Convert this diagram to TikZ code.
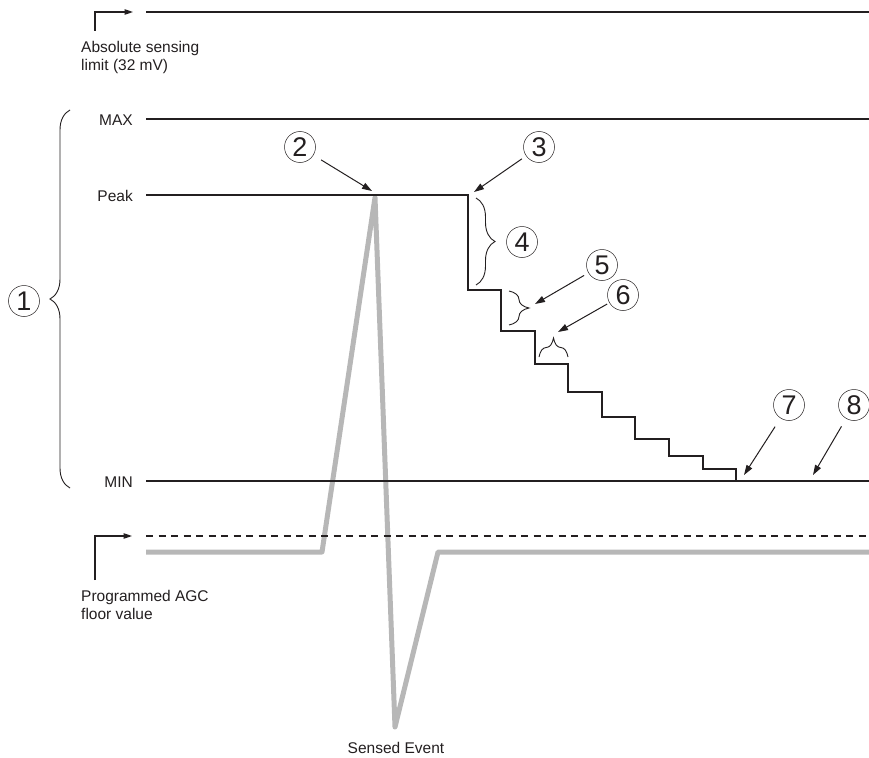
\documentclass[tikz,border=0pt]{standalone}
\usepackage{fontspec}
\setmainfont{Liberation Sans}
\usetikzlibrary{arrows.meta,decorations.pathreplacing}
\definecolor{ink}{RGB}{35,31,32}
\definecolor{sig}{RGB}{183,183,183}
\begin{document}
\begin{tikzpicture}[x=1pt,y=-1pt,
  lbl/.style={font=\fontsize{15.5}{18}\selectfont, inner sep=0pt, text=ink},
  num/.style={circle, draw=ink, line width=0.5pt, minimum size=31pt, inner sep=0pt, font=\fontsize{27}{27}\selectfont, text=ink},
  level/.style={draw=ink, line width=2.5pt},
  callout/.style={draw=ink, line width=1pt, -{Triangle[length=10pt,width=6.5pt]}},
  corner/.style={draw=ink, line width=1.1pt, -{Triangle[length=8.5pt,width=5.5pt]}},
  bracestyle/.style={draw=ink, line width=0.9pt, decorate, decoration={brace, amplitude=#1}},
  signal/.style={draw=sig, line width=5pt, line join=round}
]
\useasboundingbox (0,0) rectangle (869,757);

% labels
\node[lbl, anchor=north west, align=left] (abs) at (81,41) {Absolute sensing\\limit (32 mV)};
\node[lbl, anchor=north west, align=left] (agc) at (81,590.5) {Programmed AGC\\floor value};
\node[lbl, anchor=base east] (max) at (133,125) {MAX};
\node[lbl, anchor=base east] (peak) at (133,201) {Peak};
\node[lbl, anchor=base east] (min) at (133,487) {MIN};
\node[lbl, anchor=base] (sensed) at (396,753) {Sensed Event};

% corner arrows
\coordinate (absStart) at (95,31);
\coordinate (absTip) at (133,12);
\coordinate (agcStart) at (95,580);
\coordinate (agcTip) at (132,536);
\draw[corner] (absStart) |- (absTip);
\draw[corner] (agcStart) |- (agcTip);

% sensed signal (gray)
\draw[signal] (146,552) -- (322,552) -- (375,197.5) -- (395,727) -- (438,552) -- (869,552);

% levels
\draw[level] (146,12) -- (869,12);
\draw[level] (146,119) -- (869,119);
\draw[level] (146,481) -- (869,481);
\draw[level, dash pattern=on 7pt off 5.5pt] (146,536) -- (869,536);
\draw[level, line join=miter] (146,195) -- (468,195) -- (468,290) -- (501,290) -- (501,331)
  -- (535,331) -- (535,364) -- (568,364) -- (568,392) -- (602,392) -- (602,417)
  -- (635,417) -- (635,439) -- (669,439) -- (669,456) -- (703,456) -- (703,469)
  -- (736,469) -- (736,481);

% braces
\draw[bracestyle=20pt] (70,488) -- (70,110);
\draw[bracestyle=19pt] (476,198) -- (476,285);
\draw[bracestyle=20pt] (509,291) -- (509,325);
\draw[bracestyle=19pt] (539,357) -- (568,357);

% circled numbers
\node[num] (n1) at (24,301) {1};
\node[num] (n2) at (300,147) {2};
\node[num] (n3) at (539,147) {3};
\node[num] (n4) at (522,242) {4};
\node[num] (n5) at (602,265) {5};
\node[num] (n6) at (623,295) {6};
\node[num] (n7) at (789,405) {7};
\node[num] (n8) at (854,405) {8};

% callout targets
\coordinate (p2) at (372,191);
\coordinate (p3) at (474,192);
\coordinate (p5) at (535,304);
\coordinate (p6) at (558,332);
\coordinate (p7) at (744,475);
\coordinate (p8) at (813,475);

\draw[callout, shorten <=9pt] (n2) -- (p2);
\draw[callout, shorten <=5pt] (n3) -- (p3);
\draw[callout, shorten <=5pt] (n5) -- (p5);
\draw[callout, shorten <=2.5pt] (n6) -- (p6);
\draw[callout, shorten <=10pt] (n7) -- (p7);
\draw[callout, shorten <=9pt] (n8) -- (p8);
\end{tikzpicture}
\end{document}
